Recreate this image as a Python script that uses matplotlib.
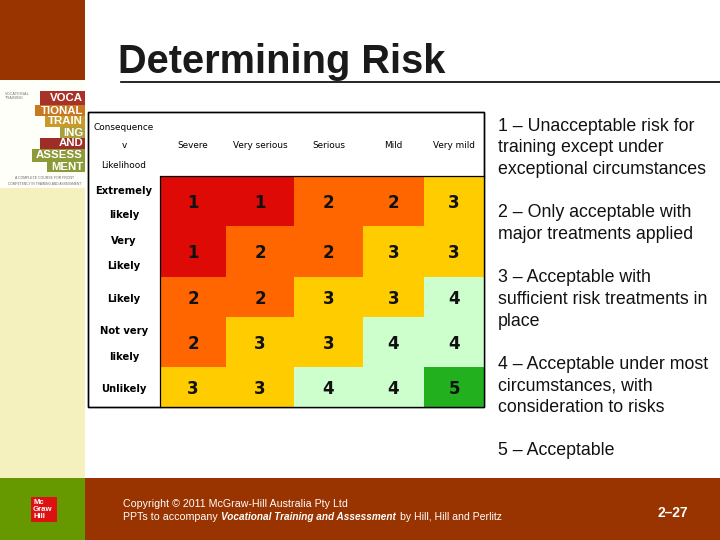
import matplotlib
matplotlib.use("Agg")
import matplotlib.pyplot as plt
from matplotlib.colors import ListedColormap, BoundaryNorm
from matplotlib.patches import Rectangle
import numpy as np

consequences = ["Severe", "Very serious", "Serious", "Mild", "Very mild"]
likelihood = ["Extremely\nlikely", "Very\nLikely", "Likely", "Not very\nlikely", "Unlikely"]
risk = [
    [1, 1, 2, 2, 3],
    [1, 2, 2, 3, 3],
    [2, 2, 3, 3, 4],
    [2, 3, 3, 4, 4],
    [3, 3, 4, 4, 5],
]
risk_colors = ["#DD0A05", "#FF6600", "#FFCC00", "#CCFFCC", "#22B01E"]
notes = [
    "1 – Unacceptable risk for\ntraining except under\nexceptional circumstances",
    "2 – Only acceptable with\nmajor treatments applied",
    "3 – Acceptable with\nsufficient risk treatments in\nplace",
    "4 – Acceptable under most\ncircumstances, with\nconsideration to risks",
    "5 – Acceptable",
]
note_y = [148, 223.5, 299.5, 386, 450.5]

# cell edges of the table, in slide pixels
col_edges = [160, 226, 294, 363, 424, 484]
row_edges = [176, 226, 277, 317, 367, 407]

BROWN = "#993300"
SANS = "Liberation Sans"
TABLE = "DejaVu Sans"

fig = plt.figure(figsize=(7.2, 5.4), dpi=100)
ax = fig.add_axes([0, 0, 1, 1])
ax.set_xlim(0, 720)
ax.set_ylim(540, 0)
ax.axis("off")

# slide furniture
ax.add_patch(Rectangle((0, 80), 85, 108, color="#FFFFFA", lw=0))
ax.add_patch(Rectangle((0, 188), 85, 290, color="#F4F1BE", lw=0))
ax.add_patch(Rectangle((0, 0), 85, 80, color=BROWN, lw=0))
ax.add_patch(Rectangle((0, 478), 720, 62, color=BROWN, lw=0))
ax.add_patch(Rectangle((0, 478), 85, 62, color="#669900", lw=0))
ax.plot([121, 720], [81.5, 81.5], color="black", lw=1.2)
ax.text(118, 73, "Determining Risk", fontsize=28.6, fontweight="bold", family=SANS,
        color="#1A1A1A", va="baseline")

# book cover
cover = [
    (40, 91, 45, 14, "#A8322A", "VOCA"),
    (35, 105, 50, 11, "#C8781E", "TIONAL"),
    (45, 116, 40, 11, "#C99A28", "TRAIN"),
    (60, 127, 25, 11, "#A8A03A", "ING"),
    (40, 138, 45, 11, "#A02C28", "AND"),
    (32, 149, 53, 13, "#8C9A38", "ASSESS"),
    (47, 162, 38, 10, "#8C9A38", "MENT"),
]
for x, y, w, h, col, word in cover:
    ax.add_patch(Rectangle((x, y), w, h, color=col, lw=0))
    ax.text(x + w - 2, y + h / 2, word, ha="right", va="center", color="white",
            fontsize=8.2, fontweight="bold", family=["Liberation Sans Narrow", SANS])
ax.text(5, 96, "VOCATIONAL\nTRAINING", fontsize=2.8, color="#777777", va="center", family=SANS)
ax.text(45, 178, "A COMPLETE COURSE FOR FRONT", fontsize=2.5, color="#666666", ha="center",
        va="center", family=SANS)
ax.text(45, 184, "COMPETENCY IN TRAINING AND ASSESSMENT", fontsize=2.3, color="#666666",
        ha="center", va="center", family=SANS)

# logo
ax.add_patch(Rectangle((31, 497), 26, 25, color="#DD1111", lw=0))
ax.text(33, 509.5, "Mc\nGraw\nHill", color="white", fontsize=5.6, fontweight="bold",
        family=SANS, va="center", linespacing=0.95)

# risk table
ax.add_patch(Rectangle((87.5, 111.5), 396.5, 295.5, fc="white", ec="black", lw=1, zorder=1))
grid = np.array(risk)
cmap = ListedColormap(risk_colors)
norm = BoundaryNorm([0.5, 1.5, 2.5, 3.5, 4.5, 5.5], cmap.N)
ax.pcolormesh(col_edges, row_edges, grid, cmap=cmap, norm=norm, zorder=2)
ax.plot([160, 160, 484], [407, 176, 176], color="black", lw=0.9, zorder=3)
ax.add_patch(Rectangle((87.5, 111.5), 396.5, 295.5, fc="none", ec="black", lw=1, zorder=3))

for r in range(len(likelihood)):
    yc = (row_edges[r] + row_edges[r + 1]) / 2
    for c in range(len(consequences)):
        xc = (col_edges[c] + col_edges[c + 1]) / 2
        ax.text(xc, yc + 2, str(risk[r][c]), ha="center", va="center", fontsize=12,
                family=TABLE, color="#111111", zorder=4, fontweight="bold")
    label = likelihood[r]
    if "\n" in label:
        top, bottom = label.split("\n")
        ax.text(124, yc - 10.5, top, ha="center", va="center", fontsize=7.2, family=TABLE,
                fontweight="bold", zorder=4)
        ax.text(124, yc + 14.5, bottom, ha="center", va="center", fontsize=7.2, family=TABLE,
                fontweight="bold", zorder=4)
    else:
        ax.text(124, yc + 2, label, ha="center", va="center", fontsize=7.2, family=TABLE,
                fontweight="bold", zorder=4)

for c, name in enumerate(consequences):
    xc = (col_edges[c] + col_edges[c + 1]) / 2
    ax.text(xc, 145.5, name, ha="center", va="center", fontsize=6.4, family=TABLE, zorder=4)
ax.text(124, 127, "Consequence", ha="center", va="center", fontsize=6.4, family=TABLE, zorder=4)
ax.text(124, 146, "v", ha="center", va="center", fontsize=6.4, family=TABLE, zorder=4)
ax.text(124, 166, "Likelihood", ha="center", va="center", fontsize=6.4, family=TABLE, zorder=4)

# key on the right
for y, note in zip(note_y, notes):
    ax.text(498, y, note, fontsize=12.8, family=SANS, color="#111111", va="center",
            linespacing=1.38)

# footer text
ax.text(123, 504, "Copyright © 2011 McGraw-Hill Australia Pty Ltd", color="white",
        fontsize=7.7, family=SANS, va="center")
ax.text(123, 516.5, "PPTs to accompany", color="white", fontsize=7.7, family=SANS, va="center")
ax.text(221, 516.5, "Vocational Training and Assessment", color="white", fontsize=7.2,
        family=SANS, style="italic", fontweight="bold", va="center")
ax.text(399.5, 516.5, "by Hill, Hill and Perlitz", color="white", fontsize=7.6, family=SANS, va="center")
ax.text(672.5, 513, "2–27", color="white", fontsize=10, fontweight="bold", family=SANS,
        ha="center", va="center")

fig.savefig("out.png", dpi=100)
